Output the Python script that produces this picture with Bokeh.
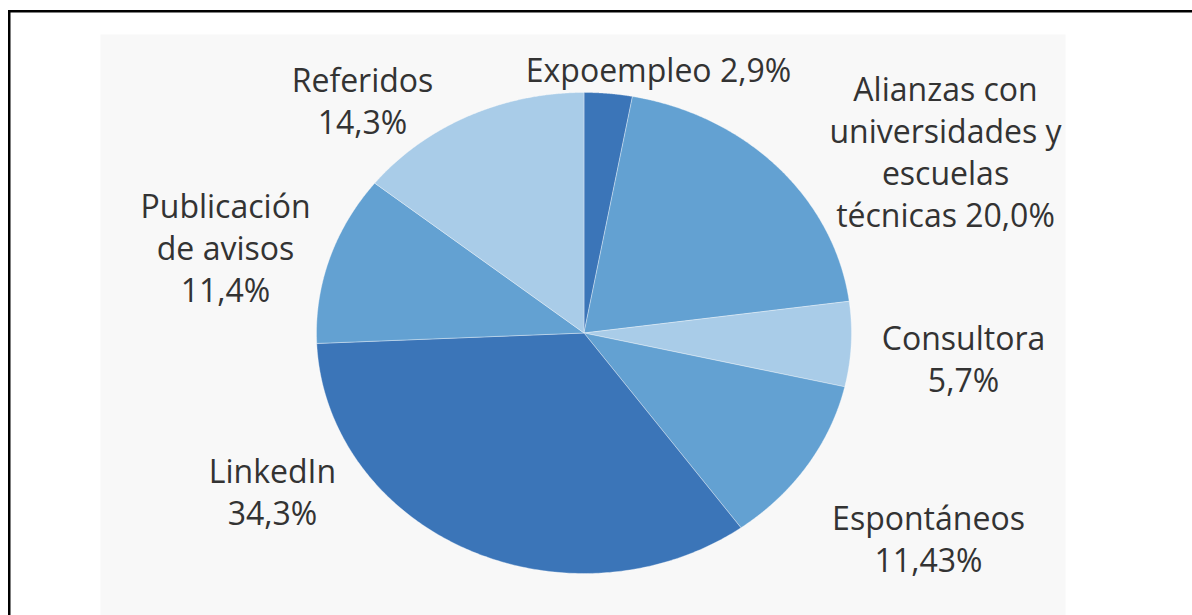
import numpy as np
from bokeh.plotting import figure
from bokeh.models import Range1d, ColumnDataSource
from bokeh.core.properties import value
from bokeh.embed import file_html
from bokeh.resources import INLINE

# ---- data ----
categories = ["Expoempleo", "Alianzas con universidades y escuelas técnicas", "Consultora",
              "Espontáneos", "LinkedIn", "Publicación de avisos", "Referidos"]
shares = [2.9, 20.0, 5.7, 11.43, 34.3, 11.4, 14.3]
share_labels = ["2,9%", "20,0%", "5,7%", "11,43%", "34,3%", "11,4%", "14,3%"]
# how each label is broken into lines on the chart
label_lines = [
    ["Expoempleo 2,9%"],
    ["Alianzas con", "universidades y", "escuelas", "técnicas 20,0%"],
    ["Consultora", "5,7%"],
    ["Espontáneos", "11,43%"],
    ["LinkedIn", "34,3%"],
    ["Publicación", "de avisos", "11,4%"],
    ["Referidos", "14,3%"],
]

# ---- styling / layout ----
DARK, MID, LIGHT = "#3B75B8", "#63A1D2", "#A9CCE8"
slice_colors = [DARK, MID, LIGHT, MID, DARK, MID, LIGHT]
W, H = 1192, 615
CX, CY, RX, RY = 583.5, 332.5, 267.5, 240.5
# label anchor (center x, first line center y)
label_pos = [(658, 69), (945, 88), (963, 337), (928, 517), (272, 470), (225, 205), (362, 79)]
LINE_STEP = 42

p = figure(width=W, height=H, output_backend="svg", toolbar_location=None,
           x_range=Range1d(0, W), y_range=Range1d(H, 0), min_border=0,
           background_fill_color="white", border_fill_color="white")
p.axis.visible = False
p.grid.visible = False
p.outline_line_color = None

# frame: black top/left border, light grey plot area
p.quad(left=[7.5], right=[W + 20], top=[9.5], bottom=[12], fill_color="black", line_color=None)
p.quad(left=[7.5], right=[10], top=[9.5], bottom=[H + 20], fill_color="black", line_color=None)
p.quad(left=[100], right=[1065], top=[34], bottom=[H + 20], fill_color="#F8F8F8", line_color=None)

# pie slices (elliptical, clockwise from 12 o'clock)
total = sum(shares)
cum = np.concatenate([[0], np.cumsum(shares)]) / total * 2 * np.pi
xs, ys = [], []
for i in range(len(shares)):
    t = np.linspace(cum[i], cum[i + 1], 200)
    xs.append(np.concatenate([[CX], CX + RX * np.sin(t)]).tolist())
    ys.append(np.concatenate([[CY], CY - RY * np.cos(t)]).tolist())
src = ColumnDataSource(dict(xs=xs, ys=ys, color=slice_colors, cat=categories, share=shares))
p.patches("xs", "ys", source=src, fill_color="color", line_color="white", line_alpha=0.35, line_width=1)

# labels
tx, ty, tt = [], [], []
for (x0, y0), lines in zip(label_pos, label_lines):
    for k, ln in enumerate(lines):
        tx.append(x0)
        ty.append(y0 + k * LINE_STEP)
        tt.append(ln)
p.text(x=tx, y=ty, text=tt, text_font=value("Open Sans"), text_font_size="32px",
       text_color="#333333", text_align="center", text_baseline="middle")

open("out.html", "w").write(file_html(p, INLINE))
